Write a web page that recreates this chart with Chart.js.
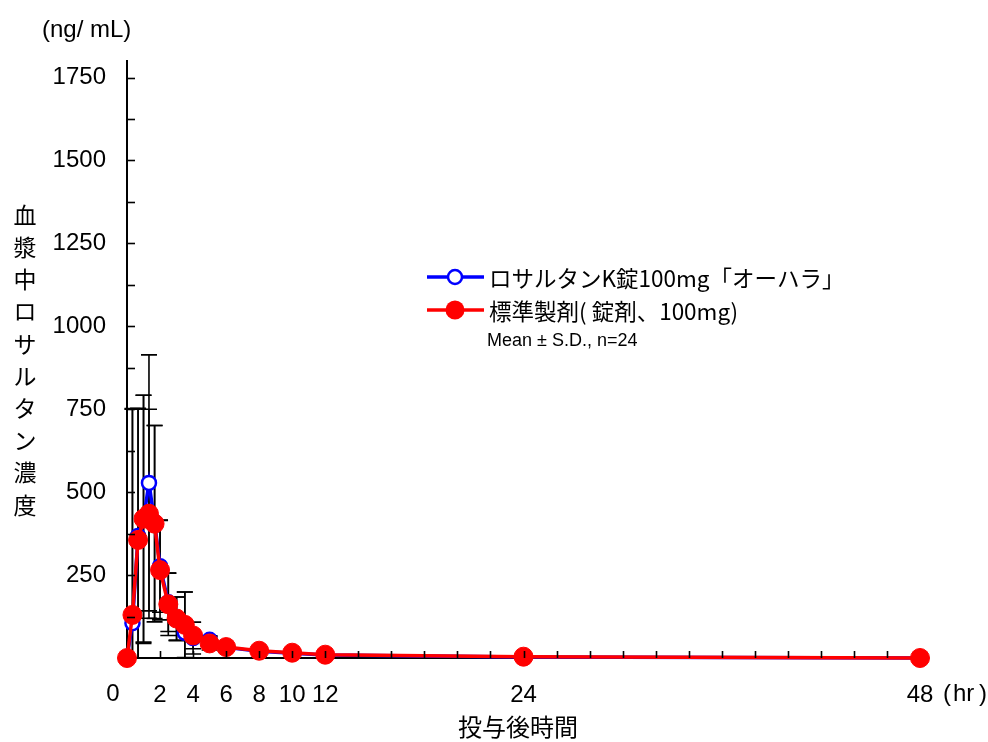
<!DOCTYPE html>
<html lang="ja">
<head>
    <meta charset="UTF-8">
    <title>ロサルタン血漿中濃度推移</title>
    <style>
        body {
            margin: 0;
            background: #fff;
        }
        #wrap {
            width: 988px;
            height: 742px;
        }
    </style>
</head>
<body>

    <div id="wrap">
        <canvas id="pkChart" width="988" height="742"></canvas>
    </div>

    <script src="https://cdn.jsdelivr.net/npm/chart.js"></script>
    <script>
        // sampling times (hr)
        const times = [0, 0.33, 0.67, 1, 1.33, 1.67, 2, 2.5, 3, 3.5, 4, 5, 6, 8, 10, 12, 24, 48];

        // ロサルタンK錠100mg「オーハラ」 mean / SD (ng/mL)
        const testMean = [0, 105, 368, 418, 528, 410, 277, 168, 118, 76, 60, 55, 32, 20, 14, 9, 3, 0];
        const testSD   = [0, 645, 385, 374, 386, 291, 139, 88, 66, 123, 48, 12, 8, 5, 4, 3, 2, 0];

        // 標準製剤 mean / SD (ng/mL)
        const refMean = [0, 130, 356, 420, 435, 405, 265, 162, 119, 100, 68, 44, 33, 22, 16, 10, 4, 0];
        const refSD   = [0, 622, 395, 372, 315, 296, 150, 94, 65, 99, 40, 20, 10, 6, 4, 3, 2, 0];

        const xLabelTicks = [2, 4, 6, 8, 10, 12, 24, 48];
        const yLabelTicks = [250, 500, 750, 1000, 1250, 1500, 1750];

        const testLabel = 'ロサルタンK錠100mg「オーハラ」';
        const refLabel = '標準製剤( 錠剤、100mg)';
        const noteLabel = 'Mean ± S.D., n=24';
        const yTitle = '血漿中ロサルタン濃度';
        const xTitle = '投与後時間';

        const BLUE = '#0000ff';
        const RED = '#ff0000';
        const JP = '"Noto Sans CJK JP", "Noto Sans", sans-serif';
        const LAT = '"Liberation Sans", Arial, sans-serif';

        // error bars, drawn under the lines and markers
        const errorBars = {
            id: 'errorBars',
            beforeDatasetsDraw(chart) {
                const ctx = chart.ctx;
                const xs = chart.scales.x;
                const ys = chart.scales.y;
                const sets = [[testMean, testSD], [refMean, refSD]];
                ctx.save();
                ctx.strokeStyle = '#000';
                ctx.lineWidth = 1.6;
                sets.forEach(([m, sd]) => {
                    times.forEach((t, i) => {
                        if (!sd[i]) return;
                        const x = xs.getPixelForValue(t);
                        const top = ys.getPixelForValue(m[i] + sd[i]);
                        const low = Math.max(0, m[i] - sd[i]);
                        const bot = ys.getPixelForValue(low);
                        ctx.beginPath();
                        ctx.moveTo(x, bot);
                        ctx.lineTo(x, top);
                        ctx.moveTo(x - 8, top);
                        ctx.lineTo(x + 8, top);
                        if (low > 0) {
                            ctx.moveTo(x - 8, bot);
                            ctx.lineTo(x + 8, bot);
                        }
                        ctx.stroke();
                    });
                });
                ctx.restore();
            }
        };

        // inward tick marks, extra labels, titles and legend
        const decorations = {
            id: 'decorations',
            afterDraw(chart) {
                const ctx = chart.ctx;
                const xs = chart.scales.x;
                const ys = chart.scales.y;
                const area = chart.chartArea;
                ctx.save();
                ctx.strokeStyle = '#000';
                ctx.lineWidth = 1.6;
                // y ticks every 125
                for (let v = 125; v <= 1750; v += 125) {
                    const y = Math.round(ys.getPixelForValue(v)) + 0.5;
                    ctx.beginPath();
                    ctx.moveTo(area.left, y);
                    ctx.lineTo(area.left + 8, y);
                    ctx.stroke();
                }
                // x ticks every 2 hr
                for (let t = 2; t < 48; t += 2) {
                    const x = Math.round(xs.getPixelForValue(t)) + 0.5;
                    ctx.beginPath();
                    ctx.moveTo(x, area.bottom);
                    ctx.lineTo(x, area.bottom - 7);
                    ctx.stroke();
                }

                ctx.fillStyle = '#000';
                ctx.textBaseline = 'middle';
                ctx.font = '24px ' + LAT;
                ctx.textAlign = 'center';
                ctx.fillText('0', xs.getPixelForValue(0) - 14, 694);
                ctx.textAlign = 'left';
                ctx.fillText('(', 943, 694);
                ctx.fillText('hr', 953, 694);
                ctx.fillText(')', 979, 694);
                ctx.fillText('(ng/ mL)', 42, 30);

                ctx.font = '24px ' + JP;
                ctx.textAlign = 'center';
                ctx.fillText(xTitle, 518, 727);
                ctx.font = '23px ' + JP;
                const chars = Array.from(yTitle);
                chars.forEach((c, i) => {
                    ctx.fillText(c, 25, 215 + i * 32.2);
                });

                // legend
                const rows = [
                    { label: testLabel, color: BLUE, y: 277, r: 7, open: true },
                    { label: refLabel, color: RED, y: 310, r: 9.5, open: false }
                ];
                rows.forEach(row => {
                    ctx.strokeStyle = row.color;
                    ctx.lineWidth = 3.5;
                    ctx.beginPath();
                    ctx.moveTo(427, row.y);
                    ctx.lineTo(484, row.y);
                    ctx.stroke();
                    ctx.beginPath();
                    ctx.arc(455, row.y, row.r, 0, Math.PI * 2);
                    ctx.fillStyle = row.open ? '#fff' : row.color;
                    ctx.fill();
                    if (row.open) {
                        ctx.lineWidth = 2.5;
                        ctx.stroke();
                    }
                    ctx.fillStyle = '#000';
                    ctx.font = '22.5px ' + JP;
                    ctx.textAlign = 'left';
                    ctx.fillText(row.label, 489, row.y + 1);
                });
                ctx.font = '18px ' + LAT;
                ctx.fillText(noteLabel, 487, 341);
                ctx.restore();
            }
        };

        const ctx = document.getElementById('pkChart').getContext('2d');
        const pkChart = new Chart(ctx, {
            type: 'line',
            data: {
                datasets: [{
                    label: refLabel,
                    data: times.map((t, i) => ({ x: t, y: refMean[i] })),
                    borderColor: RED,
                    backgroundColor: RED,
                    borderWidth: 3.5,
                    pointRadius: 9.5,
                    pointBackgroundColor: RED,
                    pointBorderColor: RED,
                    pointBorderWidth: 1,
                    tension: 0,
                    clip: false,
                    order: 0
                }, {
                    label: testLabel,
                    data: times.map((t, i) => ({ x: t, y: testMean[i] })),
                    borderColor: BLUE,
                    backgroundColor: '#fff',
                    borderWidth: 3.5,
                    pointRadius: 7,
                    pointBackgroundColor: '#fff',
                    pointBorderColor: BLUE,
                    pointBorderWidth: 2.5,
                    tension: 0,
                    clip: false,
                    order: 1
                }]
            },
            options: {
                responsive: false,
                animation: false,
                devicePixelRatio: 1,
                layout: {
                    padding: { left: 0, right: 68, top: 61, bottom: 0 }
                },
                plugins: {
                    legend: { display: false },
                    tooltip: { enabled: false }
                },
                scales: {
                    x: {
                        type: 'linear',
                        min: 0,
                        max: 48,
                        afterFit(scale) { scale.height = 84; },
                        afterBuildTicks(scale) {
                            scale.ticks = xLabelTicks.map(v => ({ value: v }));
                        },
                        grid: { display: false, drawTicks: false },
                        border: { display: true, color: '#000', width: 2 },
                        ticks: {
                            padding: 23,
                            autoSkip: false,
                            maxRotation: 0,
                            color: '#000',
                            font: { family: LAT, size: 24 },
                            callback: v => String(v)
                        }
                    },
                    y: {
                        min: 0,
                        max: 1800,
                        afterFit(scale) { scale.width = 127; },
                        afterBuildTicks(scale) {
                            scale.ticks = yLabelTicks.map(v => ({ value: v }));
                        },
                        grid: { display: false, drawTicks: false },
                        border: { display: true, color: '#000', width: 2 },
                        ticks: {
                            padding: 21,
                            color: '#000',
                            font: { family: LAT, size: 24 },
                            callback: v => String(v)
                        }
                    }
                }
            },
            plugins: [errorBars, decorations]
        });
    </script>

</body>
</html>
